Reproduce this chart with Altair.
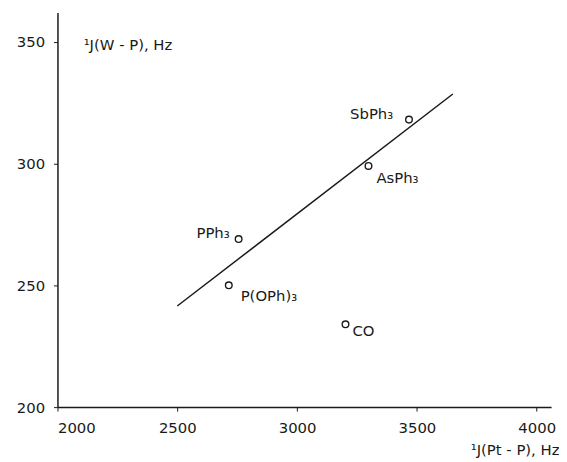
import altair as alt
import pandas as pd

# data
ligands = ["SbPh₃", "AsPh₃", "PPh₃", "P(OPh)₃", "CO"]
j_pt_p = [3467, 3298, 2756, 2715, 3202]
j_w_p = [318, 299, 269, 250, 234]

line_x = [2500, 3650]
line_y = [241.5, 328.5]

x_ticks = [2000, 2500, 3000, 3500, 4000]
y_ticks = [200, 250, 300, 350]

pts = pd.DataFrame({"lig": ligands, "x": j_pt_p, "y": j_w_p})
fit = pd.DataFrame({"x": line_x, "y": line_y})

FONT = "DejaVu Sans"
INK = "#1a1a1a"
FS = 15

xs = alt.Scale(domain=[2000, 4060], nice=False, zero=False)
ys = alt.Scale(domain=[200, 362], nice=False, zero=False)

xax = alt.Axis(values=x_ticks, format="d", grid=False, tickSize=4, labelPadding=10,
               labelFontSize=FS, labelFont=FONT, labelColor=INK,
               domainColor=INK, tickColor=INK, domainWidth=1.5,
               title="¹J(Pt - P),  Hz", titleFont=FONT, titleFontSize=FS,
               titleFontWeight="normal", titleColor=INK, titleAngle=0,
               titleAlign="right", titleBaseline="middle", titleX=507, titleY=43)
yax = alt.Axis(values=y_ticks, format="d", grid=False, tickSize=4, labelPadding=9,
               labelFontSize=FS, labelFont=FONT, labelColor=INK,
               domainColor=INK, tickColor=INK, domainWidth=1.5,
               title="¹J(W - P),  Hz", titleFont=FONT, titleFontSize=FS,
               titleFontWeight="normal", titleColor=INK, titleAngle=0,
               titleAlign="left", titleBaseline="middle", titleX=26, titleY=32)

base = alt.Chart(pts)

line = alt.Chart(fit).mark_line(color=INK, strokeWidth=1.5).encode(
    x=alt.X("x:Q", scale=xs, axis=xax),
    y=alt.Y("y:Q", scale=ys, axis=yax),
)

points = base.mark_point(shape="circle", filled=False, color=INK, size=45,
                         strokeWidth=1.4, opacity=1).encode(
    x=alt.X("x:Q", scale=xs), y=alt.Y("y:Q", scale=ys))

label_style = {
    "SbPh₃": dict(align="right", dx=-16, dy=-6),
    "AsPh₃": dict(align="left", dx=8, dy=12),
    "PPh₃": dict(align="right", dx=-9, dy=-6),
    "P(OPh)₃": dict(align="left", dx=12, dy=11),
    "CO": dict(align="left", dx=7, dy=7),
}

labels = []
for lig in ligands:
    st = label_style[lig]
    labels.append(
        base.transform_filter(alt.datum.lig == lig).mark_text(
            font=FONT, fontSize=FS, color=INK, baseline="middle", **st
        ).encode(x=alt.X("x:Q", scale=xs), y=alt.Y("y:Q", scale=ys), text="lig:N")
    )

chart = alt.layer(line, points, *labels).properties(
    width=499, height=399,
    background="white",
    autosize=alt.AutoSizeParams(type="none"),
    padding={"left": 50, "top": 2, "right": 8, "bottom": 51},
).configure_view(stroke=None)

chart.save("out.html", embed_options={"renderer": "svg", "actions": False})
